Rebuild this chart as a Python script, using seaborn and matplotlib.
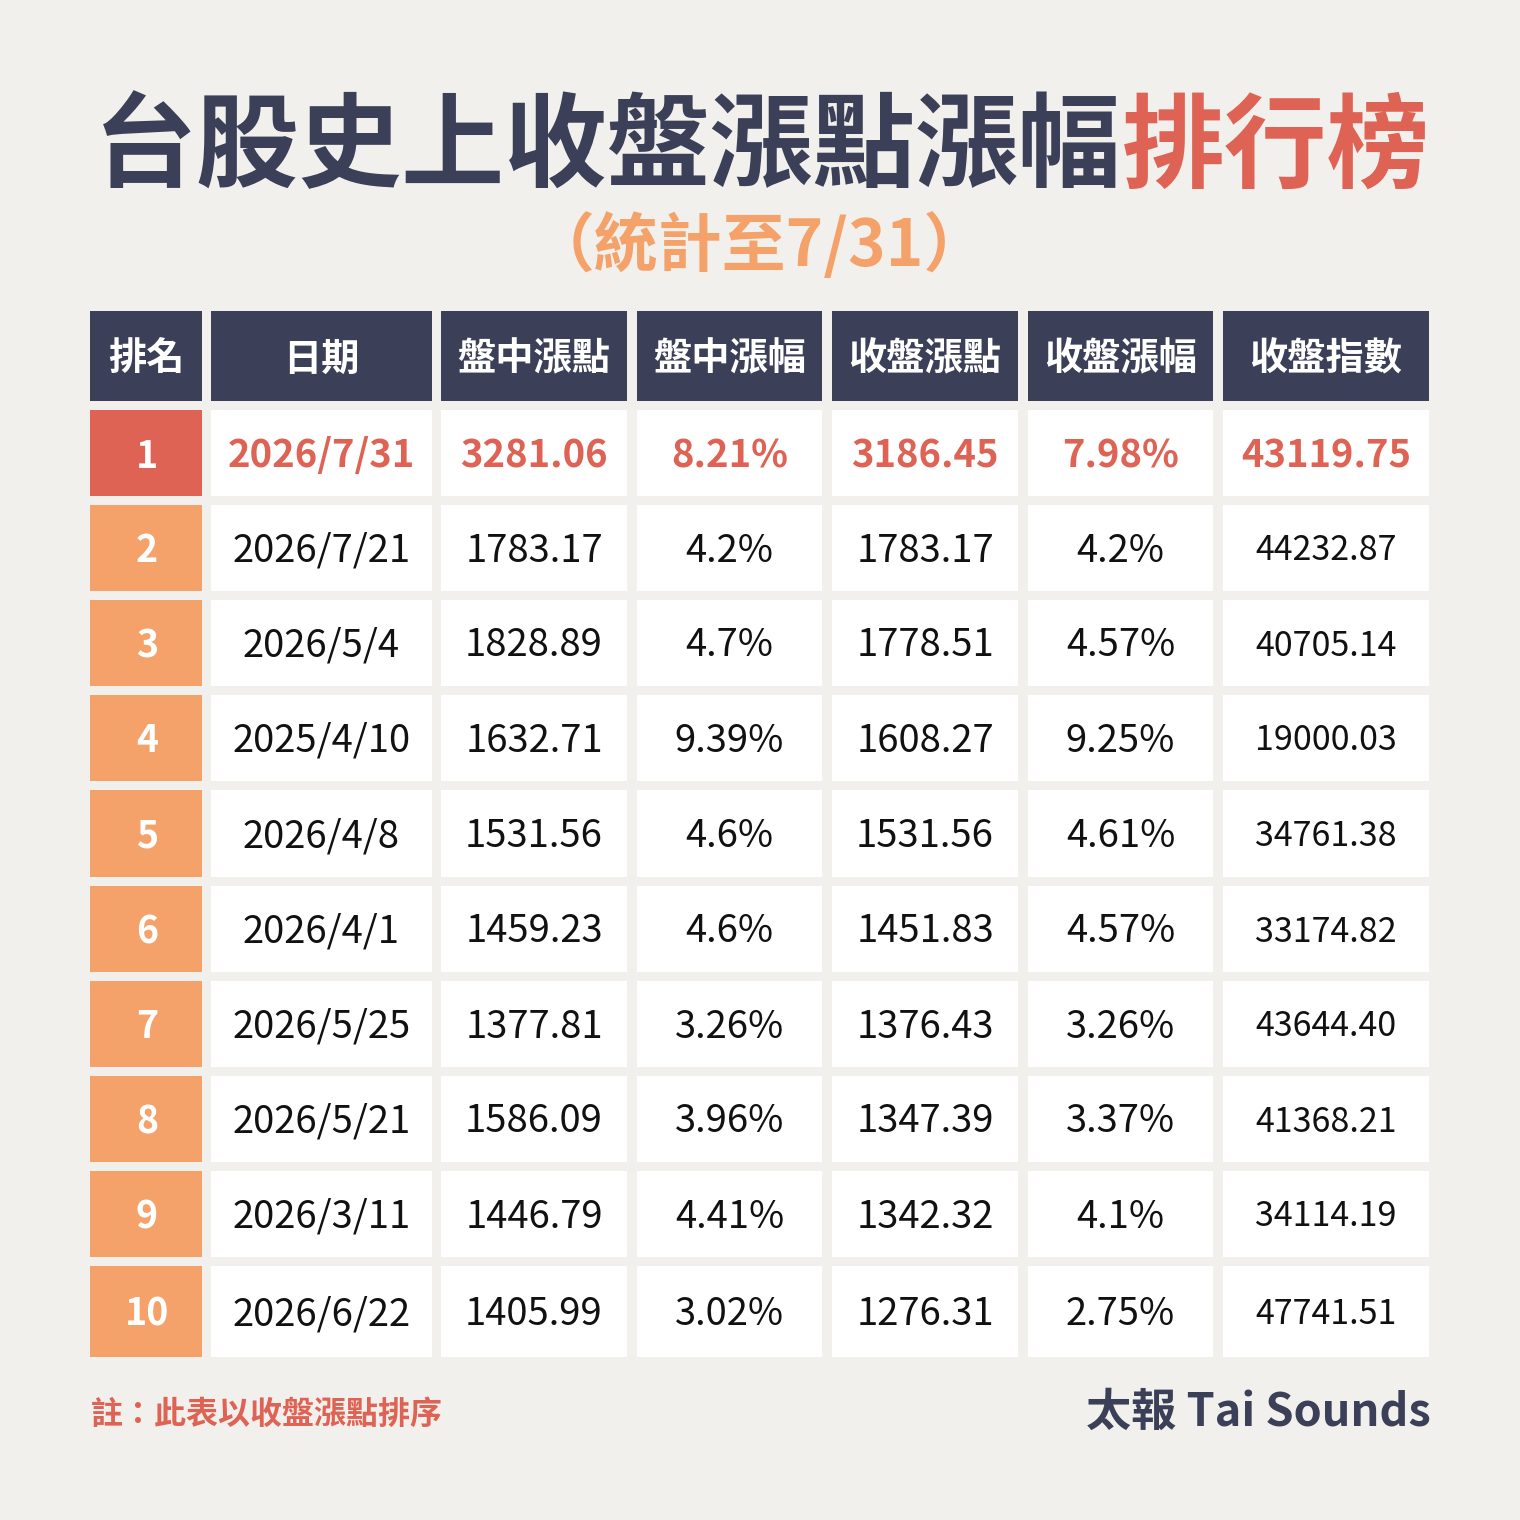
import matplotlib

matplotlib.use("Agg")
import matplotlib.pyplot as plt
import pandas as pd
import seaborn as sns
from matplotlib.patches import Rectangle

# table content
headers = ["排名", "日期", "盤中漲點", "盤中漲幅", "收盤漲點", "收盤漲幅", "收盤指數"]
ranks = [1, 2, 3, 4, 5, 6, 7, 8, 9, 10]
dates = [
    "2026/7/31", "2026/7/21", "2026/5/4", "2025/4/10", "2026/4/8",
    "2026/4/1", "2026/5/25", "2026/5/21", "2026/3/11", "2026/6/22",
]
intraday_points = [3281.06, 1783.17, 1828.89, 1632.71, 1531.56, 1459.23, 1377.81, 1586.09, 1446.79, 1405.99]
intraday_pct = [8.21, 4.2, 4.7, 9.39, 4.6, 4.6, 3.26, 3.96, 4.41, 3.02]
close_points = [3186.45, 1783.17, 1778.51, 1608.27, 1531.56, 1451.83, 1376.43, 1347.39, 1342.32, 1276.31]
close_pct = [7.98, 4.2, 4.57, 9.25, 4.61, 4.57, 3.26, 3.37, 4.1, 2.75]
close_index = [43119.75, 44232.87, 40705.14, 19000.03, 34761.38, 33174.82, 43644.40, 41368.21, 34114.19, 47741.51]

title_main = "台股史上收盤漲點漲幅"
title_accent = "排行榜"
subtitle = "（統計至7/31）"
note = "註：此表以收盤漲點排序"
brand = "太報 Tai Sounds"

BG = "#F2F0EC"
NAVY = "#3B3F57"
RED = "#DF6354"
ORANGE = "#F4A26A"
INK = "#111111"

# layout (pixels, figure is 1520 x 1520)
COL_LEFT = [90, 211, 441, 637, 832, 1028, 1223]
COL_RIGHT = [202, 432, 627, 822, 1018, 1213, 1429]
HEAD_TOP, HEAD_BOTTOM = 311, 401
ROW_TOP = [410, 505, 600, 695, 790, 886, 981, 1076, 1171, 1266]
ROW_H = [86, 86, 86, 86, 87, 86, 86, 86, 86, 91]


def build_table() -> pd.DataFrame:
    df = pd.DataFrame(
        {
            "rank": ranks,
            "date": dates,
            "intraday_points": intraday_points,
            "intraday_pct": intraday_pct,
            "close_points": close_points,
            "close_pct": close_pct,
            "close_index": close_index,
        }
    )
    return pd.DataFrame(
        {
            headers[0]: df["rank"].astype(str),
            headers[1]: df["date"],
            headers[2]: df["intraday_points"].map(lambda v: f"{v:.2f}"),
            headers[3]: df["intraday_pct"].map(lambda v: f"{v:g}%"),
            headers[4]: df["close_points"].map(lambda v: f"{v:.2f}"),
            headers[5]: df["close_pct"].map(lambda v: f"{v:g}%"),
            headers[6]: df["close_index"].map(lambda v: f"{v:.2f}"),
        }
    )


def main() -> None:
    sns.set_theme(style="white")
    plt.rcParams["font.family"] = ["Noto Sans CJK TC", "DejaVu Sans"]

    table = build_table()

    fig = plt.figure(figsize=(15.2, 15.2), dpi=100, facecolor=BG)
    ax = fig.add_axes([0, 0, 1, 1])
    ax.set_xlim(0, 1520)
    ax.set_ylim(1520, 0)
    ax.set_facecolor(BG)
    ax.axis("off")

    # title, two colours side by side
    t1 = ax.text(0, 0, title_main, fontsize=74, fontweight="heavy", color=NAVY, va="center")
    t2 = ax.text(0, 0, title_accent, fontsize=74, fontweight="heavy", color=RED, va="center")
    fig.canvas.draw()
    r = fig.canvas.get_renderer()
    w1 = t1.get_window_extent(r).width
    w2 = t2.get_window_extent(r).width
    x0 = 762 - (w1 + w2) / 2
    t1.set_position((x0, 149))
    t2.set_position((x0 + w1, 149))

    ax.text(759, 247, subtitle, fontsize=46, fontweight="bold", color=ORANGE,
            ha="center", va="center")

    # header row
    for j, name in enumerate(headers):
        ax.add_patch(Rectangle((COL_LEFT[j], HEAD_TOP), COL_RIGHT[j] - COL_LEFT[j],
                               HEAD_BOTTOM - HEAD_TOP, facecolor=NAVY, edgecolor="none"))
        ax.text((COL_LEFT[j] + COL_RIGHT[j]) / 2, (HEAD_TOP + HEAD_BOTTOM) / 2 + 3, name,
                fontsize=27.5, fontweight="bold", color="white", ha="center", va="center")

    # body rows
    for i, row in table.iterrows():
        top, h = ROW_TOP[i], ROW_H[i]
        yc = top + h / 2 + 3
        first = i == 0
        for j, name in enumerate(headers):
            if j == 0:
                fc = RED if first else ORANGE
            else:
                fc = "white"
            ax.add_patch(Rectangle((COL_LEFT[j], top), COL_RIGHT[j] - COL_LEFT[j], h,
                                   facecolor=fc, edgecolor="none"))
            xc = (COL_LEFT[j] + COL_RIGHT[j]) / 2
            if j == 0:
                ax.text(xc + 1, yc, row[name], fontsize=27, fontweight="bold", color="white",
                        ha="center", va="center")
            elif first:
                ax.text(xc, yc, row[name], fontsize=27.5, fontweight="bold", color=RED,
                        ha="center", va="center")
            else:
                size = 24.5 if j == 6 else 27.5
                ax.text(xc, yc, row[name], fontsize=size, color=INK,
                        ha="center", va="center")

    # footer
    ax.text(91, 1415, note, fontsize=23, fontweight="bold", color=RED, ha="left", va="center")
    ax.text(1431, 1413, brand, fontsize=32.5, fontweight="bold", color=NAVY, ha="right", va="center")

    fig.savefig("out.png", dpi=100, facecolor=BG)
    plt.close(fig)


if __name__ == "__main__":
    main()
